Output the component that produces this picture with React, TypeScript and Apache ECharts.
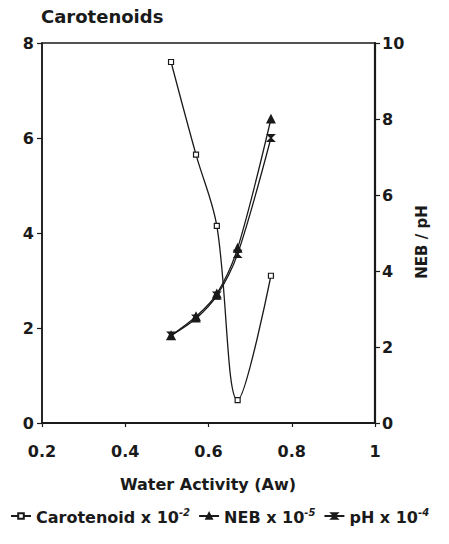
import React, { useEffect, useRef } from "react";
import * as echarts from "echarts";

const waterActivity = [0.51, 0.57, 0.62, 0.67, 0.75];
const carotenoid = [7.6, 5.65, 4.15, 0.48, 3.1];
const neb = [2.3, 2.8, 3.4, 4.6, 8.0];
const ph = [2.3, 2.75, 3.35, 4.45, 7.5];
const leftTicks = [0, 2, 4, 6, 8];
const rightTicks = [0, 2, 4, 6, 8, 10];
const xTicks = [0.2, 0.4, 0.6, 0.8, 1];

const seriesNames = ["Carotenoid", "NEB", "pH"];
const exponents: Record<string, string> = { Carotenoid: "-2", NEB: "-5", pH: "-4" };

const FONT = "DejaVu Sans";
const INK = "#1a1a1a";

export default function App() {
  const ref = useRef<HTMLDivElement>(null);
  useEffect(() => {
    if (!ref.current) return;
    const chart = echarts.init(ref.current, null, { renderer: "svg" });
    const pair = (ys: number[]) => waterActivity.map((x, i) => [x, ys[i]]);
    const lineBase = {
      type: "line" as const,
      lineStyle: { color: INK, width: 1.3 },
      itemStyle: { color: INK, borderColor: INK, borderWidth: 1.2 },
      emphasis: { disabled: true },
    };
    chart.setOption({
      animation: false,
      backgroundColor: "#ffffff",
      textStyle: { fontFamily: FONT },
      grid: {
        left: 42,
        right: 74,
        top: 43,
        bottom: 121,
        show: true,
        borderColor: INK,
        borderWidth: 1.5,
      },
      xAxis: {
        type: "value",
        min: 0.2,
        max: 1,
        interval: 0.2,
        axisLine: { show: true, lineStyle: { color: INK, width: 2 } },
        axisTick: { show: true, length: 4, lineStyle: { color: INK, width: 1.2 } },
        splitLine: { show: false },
        axisLabel: {
          margin: 20,
          color: INK,
          fontFamily: FONT,
          fontWeight: "bold",
          fontSize: 16,
          formatter: (v: number) => {
            const t = xTicks.find((k) => Math.abs(k - v) < 1e-6);
            return t === undefined ? "" : String(t);
          },
        },
      },
      yAxis: [
        {
          type: "value",
          min: 0,
          max: 8,
          interval: 2,
          position: "left",
          axisLine: { show: true, lineStyle: { color: INK, width: 1.5 } },
          axisTick: { show: true, length: 5, lineStyle: { color: INK, width: 1.2 } },
          splitLine: { show: false },
          axisLabel: {
            margin: 8,
            color: INK,
            fontFamily: FONT,
            fontWeight: "bold",
            fontSize: 16,
            formatter: (v: number) => (leftTicks.includes(v) ? String(v) : ""),
          },
        },
        {
          type: "value",
          min: 0,
          max: 10,
          interval: 2,
          position: "right",
          axisLine: { show: true, lineStyle: { color: INK, width: 2.2 } },
          axisTick: { show: true, length: 5, lineStyle: { color: INK, width: 1.2 } },
          splitLine: { show: false },
          axisLabel: {
            margin: 7,
            color: INK,
            fontFamily: FONT,
            fontWeight: "bold",
            fontSize: 16,
            formatter: (v: number) => (rightTicks.includes(v) ? String(v) : ""),
          },
        },
      ],
      legend: {
        data: seriesNames,
        left: 10,
        top: 507,
        width: 439,
        padding: 0,
        itemWidth: 20,
        itemHeight: 7,
        itemGap: 8,
        selectedMode: false,
        textStyle: {
          fontFamily: FONT,
          color: INK,
          rich: {
            n: { fontFamily: FONT, fontWeight: "bold", fontSize: 16, color: INK, lineHeight: 18, verticalAlign: "bottom" },
            s: { fontFamily: FONT, fontWeight: "bold", fontStyle: "italic", fontSize: 10, color: INK, lineHeight: 11, verticalAlign: "top", padding: [0, 0, 14, 0] },
          },
        },
        formatter: (name: string) => `{n|${name} x 10}{s|${exponents[name]}}`,
      },
      graphic: [
        {
          type: "text",
          left: 41,
          top: 7,
          style: { text: "Carotenoids", fontFamily: FONT, fontWeight: "bold", fontSize: 18, fill: INK },
        },
        {
          type: "text",
          x: 208,
          y: 484,
          style: {
            text: "Water Activity (Aw)",
            fontFamily: FONT,
            fontWeight: "bold",
            fontSize: 16,
            fill: INK,
            align: "center",
            verticalAlign: "middle",
          },
        },
        {
          type: "text",
          x: 422,
          y: 242,
          rotation: Math.PI / 2,
          style: {
            text: "NEB / pH",
            fontFamily: FONT,
            fontWeight: "bold",
            fontSize: 15,
            fill: INK,
            align: "center",
            verticalAlign: "middle",
          },
        },
      ],
      series: [
        {
          ...lineBase,
          name: "Carotenoid",
          yAxisIndex: 0,
          data: pair(carotenoid),
          smooth: 0.35,
          symbol: "rect",
          symbolSize: 5,
          itemStyle: { color: "#ffffff", borderColor: INK, borderWidth: 1.2 },
        },
        {
          ...lineBase,
          name: "NEB",
          yAxisIndex: 1,
          data: pair(neb),
          smooth: 0.3,
          symbol: "triangle",
          symbolSize: 8,
        },
        {
          ...lineBase,
          name: "pH",
          yAxisIndex: 1,
          data: pair(ph),
          smooth: 0.3,
          symbol: "path://M0,0 L10,0 L0,10 L10,10 Z",
          symbolSize: 7,
        },
      ],
    });
    return () => chart.dispose();
  }, []);
  return (
    <div
      ref={ref}
      style={{ position: "fixed", left: 0, top: 0, width: 449, height: 544, background: "#fff" }}
    />
  );
}
